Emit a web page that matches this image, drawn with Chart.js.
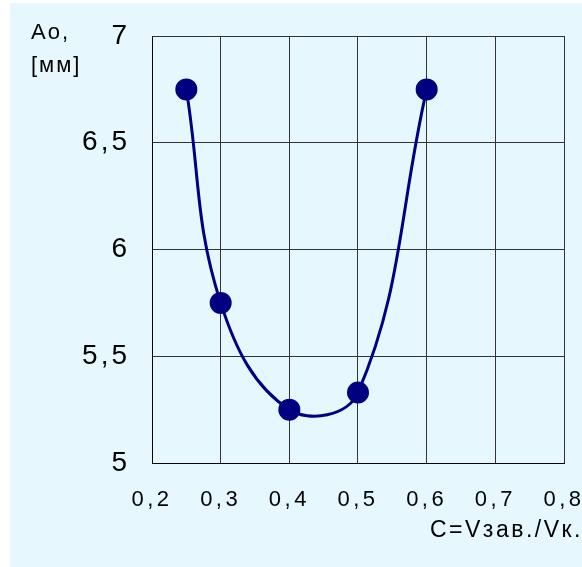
<!DOCTYPE html>
<html>
<head>
<meta charset="utf-8">
<script src="https://cdn.jsdelivr.net/npm/chart.js@4.4.0/dist/chart.umd.min.js"></script>
<style>
  html, body { margin: 0; padding: 0; background: #fff; }
  #wrap { position: absolute; left: 10px; top: 3px; width: 572px; height: 564px; background: #e6f7fe; }
</style>
</head>
<body>
<div id="wrap"><canvas id="chart" width="572" height="564"></canvas></div>
<script>
// данные с графика
const ratioC = [0.25, 0.3, 0.4, 0.5, 0.6];
const ampAo = [6.75, 5.75, 5.25, 5.33, 6.75];
const xTickLabels = ['0,2', '0,3', '0,4', '0,5', '0,6', '0,7', '0,8'];
const yTickLabels = ['5', '5,5', '6', '6,5', '7'];
const yTitleLines = ['Ao,', '[мм]'];
const xTitle = 'C=Vзав./Vк.';

const FONT = "'Liberation Sans', Arial, sans-serif";

// подписи осей рисуем сами, поверх графика
const axisTitles = {
    id: 'axisTitles',
    beforeDraw(chart) {
        chart.ctx.letterSpacing = '3px';
    },
    afterDatasetsDraw(chart) {
        // подписи оси X рисуются после линий (z: 1), у них шире разрядка
        chart.ctx.letterSpacing = '3.5px';
    },
    afterDraw(chart) {
        const ctx = chart.ctx;
        ctx.save();
        ctx.fillStyle = '#000';
        ctx.font = '22px ' + FONT;
        ctx.letterSpacing = '2px';
        ctx.textBaseline = 'alphabetic';
        ctx.textAlign = 'left';
        ctx.fillText(yTitleLines[0], 21, 36);
        ctx.fillText(yTitleLines[1], 21, 69);
        ctx.font = '23px ' + FONT;
        ctx.letterSpacing = '2.5px';
        ctx.textAlign = 'right';
        ctx.fillText(xTitle, 573, 534);
        ctx.restore();
        ctx.letterSpacing = '0px';
    }
};

const chart = new Chart(document.getElementById('chart'), {
    type: 'line',
    data: {
        datasets: [{
            data: ratioC.map((c, i) => ({ x: c, y: ampAo[i] })),
            borderColor: '#000080',
            backgroundColor: '#000080',
            borderWidth: 3,
            tension: 0.4,
            pointRadius: 9.5,
            pointHoverRadius: 9.5,
            pointBackgroundColor: '#000080',
            pointBorderColor: '#000080',
            fill: false
        }]
    },
    options: {
        responsive: false,
        animation: false,
        events: [],
        layout: {
            padding: { top: 33, right: 18, left: 0, bottom: 0 }
        },
        plugins: {
            legend: { display: false },
            tooltip: { enabled: false }
        },
        scales: {
            x: {
                type: 'linear',
                min: 0.2,
                max: 0.8,
                afterFit: scale => {
                    scale.height = 104;
                    scale.paddingLeft = 0;
                    scale.paddingRight = 0;
                },
                grid: {
                    color: '#333',
                    lineWidth: 1,
                    drawTicks: false
                },
                border: { color: '#000', width: 1 },
                ticks: {
                    z: 1,
                    stepSize: 0.1,
                    padding: 24,
                    color: '#000',
                    font: { size: 22, family: FONT },
                    maxRotation: 0,
                    callback: (v, i) => xTickLabels[i]
                }
            },
            y: {
                min: 5,
                max: 7,
                afterFit: scale => {
                    scale.width = 142;
                    scale.paddingTop = 0;
                    scale.paddingBottom = 0;
                },
                grid: {
                    color: '#333',
                    lineWidth: 1,
                    drawTicks: false
                },
                border: { color: '#000', width: 1 },
                ticks: {
                    stepSize: 0.5,
                    padding: 22,
                    color: '#000',
                    font: { size: 28, family: FONT },
                    callback: (v, i) => yTickLabels[i]
                }
            }
        }
    },
    plugins: [axisTitles]
});
</script>
</body>
</html>
